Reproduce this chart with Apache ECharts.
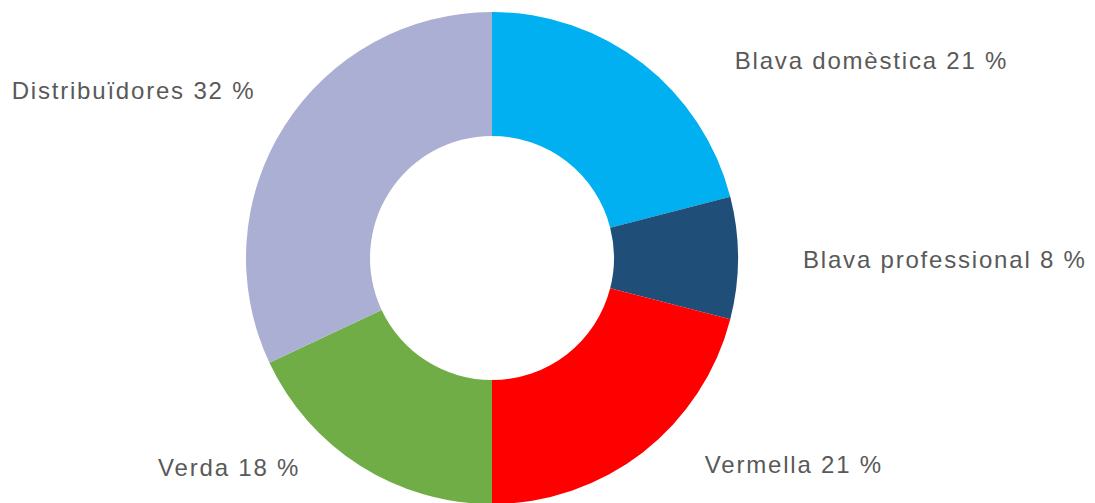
<!DOCTYPE html>
<html>
<head>
<meta charset="utf-8">
<script src="https://cdn.jsdelivr.net/npm/echarts@6/dist/echarts.min.js"></script>
<style>
  html, body { margin: 0; padding: 0; background: #fff; }
  #chart { width: 1095px; height: 503px; }
  /* the reference font is wide, so space the letters out a bit */
  #chart text { letter-spacing: 1.8px; }
</style>
</head>
<body>
<div id="chart"></div>
<script>
const categories = ['Blava domèstica', 'Blava professional', 'Vermella', 'Verda', 'Distribuïdores']
const shares = [21, 8, 21, 18, 32]
const colors = ['#00B0F0', '#1F4E79', '#FF0000', '#70AD47', '#ABAFD3']
// label nudges (px) from the default outside position, per slice
const labelShift = [[87, -3], [60, 1], [57, 12], [-55, 2], [-24, -36]]

const chart = echarts.init(document.getElementById('chart'), null, { renderer: 'svg' })

chart.setOption({
  animation: false,
  series: [{
    type: 'pie',
    center: [492, 258],
    radius: [122, 246],
    startAngle: 90,
    clockwise: true,
    avoidLabelOverlap: false,
    itemStyle: { borderWidth: 0 },
    label: {
      show: true,
      position: 'outside',
      formatter: p => p.name + ' ' + p.value + ' %',
      color: '#595959',
      fontFamily: 'Liberation Sans',
      fontSize: 24,
      distanceToLabelLine: 5
    },
    labelLine: { show: false, length: 0, length2: 0 },
    labelLayout: params => {
      const s = labelShift[params.dataIndex]
      return { dx: s[0], dy: s[1] }
    },
    data: categories.map((name, i) => ({
      name,
      value: shares[i],
      itemStyle: { color: colors[i] }
    }))
  }]
})
</script>
</body>
</html>
